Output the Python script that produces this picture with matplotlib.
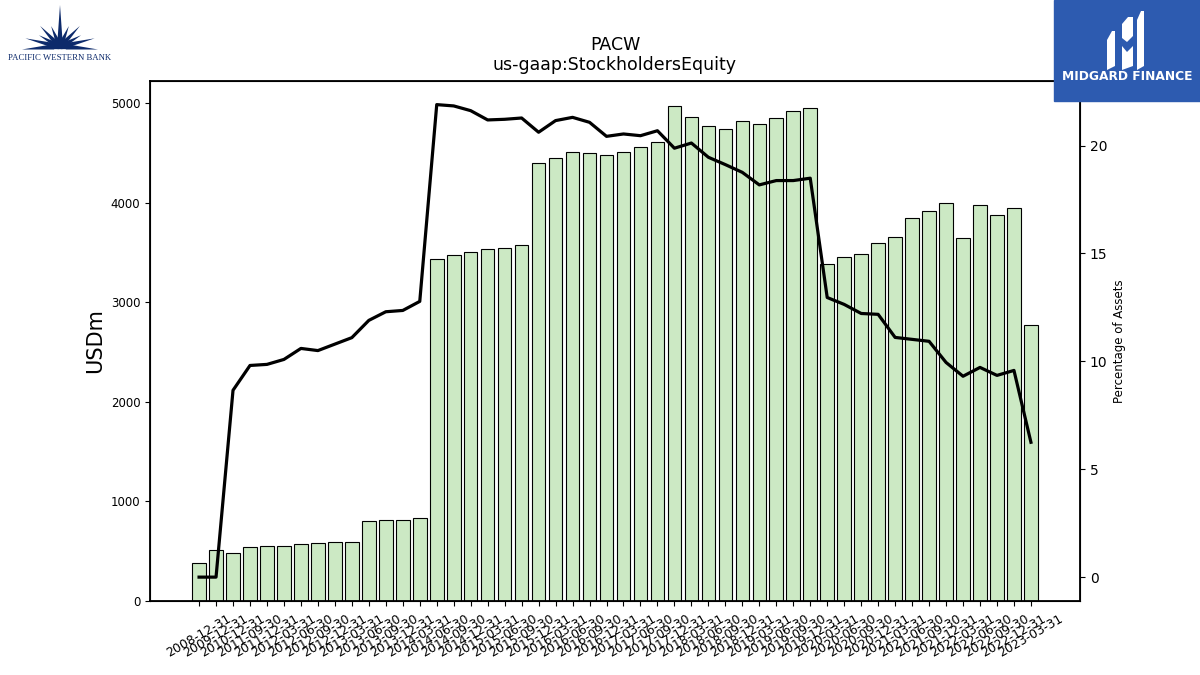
import matplotlib
matplotlib.use("Agg")
import matplotlib.pyplot as plt
from matplotlib.patches import Rectangle, Polygon, Wedge
import numpy as np

dates = ["2008-12-31", "2009-12-31", "2010-12-31",
         "2011-09-30", "2011-12-31",
         "2012-03-31", "2012-06-30", "2012-09-30", "2012-12-31",
         "2013-03-31", "2013-06-30", "2013-09-30", "2013-12-31",
         "2014-03-31", "2014-06-30", "2014-09-30", "2014-12-31",
         "2015-03-31", "2015-06-30", "2015-09-30", "2015-12-31",
         "2016-03-31", "2016-06-30", "2016-09-30", "2016-12-31",
         "2017-03-31", "2017-06-30", "2017-09-30", "2017-12-31",
         "2018-03-31", "2018-06-30", "2018-09-30", "2018-12-31",
         "2019-03-31", "2019-06-30", "2019-09-30", "2019-12-31",
         "2020-03-31", "2020-06-30", "2020-09-30", "2020-12-31",
         "2021-03-31", "2021-06-30", "2021-09-30", "2021-12-31",
         "2022-03-31", "2022-06-30", "2022-09-30", "2022-12-31",
         "2023-03-31"]

equity = [382, 513, 483, 543, 553, 553, 573, 583, 594, 594,
          805, 815, 815, 835, 3440, 3481, 3511, 3541, 3551, 3581,
          4403, 4453, 4514, 4504, 4483, 4514, 4564, 4614, 4977, 4866,
          4775, 4745, 4826, 4795, 4856, 4926, 4957, 3387, 3457, 3488,
          3598, 3659, 3850, 3920, 4000, 3649, 3980, 3880, 3950, 2777]

pct_assets = [0.0, 0.0, 8.66, 9.81, 9.86, 10.09, 10.6, 10.5, 10.8, 11.1,
              11.9, 12.3, 12.36, 12.78, 21.9, 21.84, 21.62, 21.19, 21.22, 21.28,
              20.62, 21.16, 21.31, 21.08, 20.43, 20.54, 20.46, 20.69, 19.88, 20.12,
              19.46, 19.12, 18.76, 18.18, 18.38, 18.38, 18.49, 12.96, 12.64, 12.22,
              12.18, 11.11, 11.02, 10.93, 9.95, 9.31, 9.72, 9.35, 9.58, 6.25]

fig = plt.figure(figsize=(12, 6.75), dpi=100)
ax = fig.add_subplot(111)
x = np.arange(len(dates))
ax.bar(x, equity, width=0.8, color="#cce9c4", edgecolor="black", linewidth=0.8)
ax.set_xticks(x)
ax.set_xticklabels(dates, rotation=30, fontsize=9, ha="center")
ax.tick_params(axis="x", pad=4.5)
ax.tick_params(axis="y", labelsize=8.5)
ax.set_ylabel("USDm", fontsize=15)
ax.set_title("PACW\nus-gaap:StockholdersEquity", fontsize=12.5, pad=8, linespacing=1.15)
for s in ax.spines.values():
    s.set_linewidth(1.3)

ax2 = ax.twinx()
ax2.plot(x, pct_assets, color="black", linewidth=2.3)
ax2.set_ylabel("Percentage of Assets", fontsize=8.5)
ax2.tick_params(axis="y", labelsize=10)

# Pacific Western Bank logo (approximate)
lax = fig.add_axes([0, 1 - 70 / 675, 130 / 1200, 70 / 675])
lax.set_xlim(0, 130)
lax.set_ylim(70, 0)
lax.axis("off")
navy = "#0d2a6b"
ccx, ccy = 60, 47
angles = np.linspace(0, 180, 11)[1:-1]
lengths = [28, 20, 26, 22, 42, 22, 26, 20, 28]
for a, L in zip(angles, lengths):
    r = np.radians(a)
    tip = (ccx + L * np.cos(r) * 1.3, ccy - L * np.sin(r))
    perp = np.radians(a + 90)
    w = 3.0
    p1 = (ccx + w * np.cos(perp), ccy - w * np.sin(perp))
    p2 = (ccx - w * np.cos(perp), ccy + w * np.sin(perp))
    lax.add_patch(Polygon([p1, tip, p2], closed=True, color=navy, lw=0))
lax.add_patch(Polygon([(22, 49.5), (60, 43), (98, 49.5)], closed=True, color=navy, lw=0))
lax.add_patch(Wedge((ccx, ccy + 3), 5.5, 0, 180, color="white"))
lax.text(60, 58.5, "PACIFIC WESTERN BANK", ha="center", va="center",
         fontsize=6.3, family="Liberation Serif", color=navy)

# Midgard Finance logo (approximate)
fig.patches.append(Rectangle((1054 / 1200, 1 - 101 / 675), 146 / 1200, 101 / 675,
                             transform=fig.transFigure, color="#2d5bb0", zorder=5))
max_ = fig.add_axes([1054 / 1200, 1 - 101 / 675, 146 / 1200, 101 / 675], zorder=6)
max_.set_xlim(0, 146)
max_.set_ylim(101, 0)
max_.axis("off")
max_.add_patch(Polygon([(53, 40), (58, 31), (61, 31), (61, 66), (53, 70)], closed=True, color="white", lw=0))
max_.add_patch(Polygon([(68, 24), (74, 17), (79, 17), (79, 36), (73, 42), (68, 38)], closed=True, color="white", lw=0))
max_.add_patch(Polygon([(68, 46), (73, 52), (79, 46), (79, 66), (68, 70)], closed=True, color="white", lw=0))
max_.add_patch(Polygon([(83, 20), (87, 11), (90, 11), (90, 66), (83, 70)], closed=True, color="white", lw=0))
max_.text(73, 76.5, "MIDGARD FINANCE", ha="center", va="center", fontsize=8.8,
          color="white", fontweight="bold", family="DejaVu Sans")

fig.savefig("out.png", dpi=100)
